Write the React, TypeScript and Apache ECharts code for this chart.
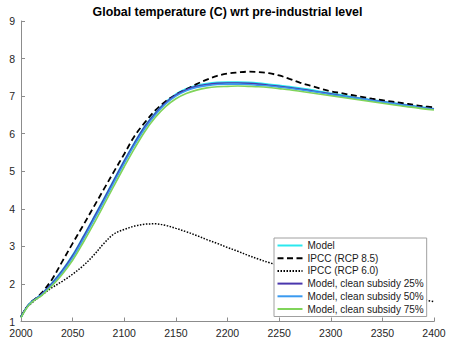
import React, { useEffect, useRef } from "react";
import * as echarts from "echarts";

const titleText = "Global temperature (C) wrt pre-industrial level";

const years = [
  2000, 2005, 2010, 2015, 2020, 2030, 2040, 2050, 2060, 2070, 2080, 2090, 2100,
  2110, 2120, 2130, 2140, 2150, 2160, 2170, 2180, 2190, 2200, 2210, 2220, 2230,
  2240, 2250, 2260, 2270, 2280, 2290, 2300, 2310, 2320, 2330, 2340, 2350, 2360,
  2370, 2380, 2390, 2400,
];

const model = [
  1.12, 1.36, 1.52, 1.62, 1.73, 2.02, 2.36, 2.76, 3.24, 3.74, 4.25, 4.77, 5.28,
  5.76, 6.2, 6.55, 6.84, 7.05, 7.19, 7.28, 7.33, 7.36, 7.37, 7.37, 7.36, 7.34,
  7.31, 7.28, 7.25, 7.21, 7.17, 7.12, 7.07, 7.03, 6.98, 6.94, 6.9, 6.86, 6.82,
  6.78, 6.74, 6.7, 6.66,
];

const rcp85 = [
  1.12, 1.36, 1.52, 1.63, 1.76, 2.12, 2.6, 3.08, 3.55, 4.03, 4.51, 4.99, 5.46,
  5.94, 6.3, 6.62, 6.86, 7.04, 7.18, 7.32, 7.44, 7.54, 7.6, 7.63, 7.65, 7.64,
  7.61, 7.55, 7.46, 7.36, 7.28, 7.2, 7.13, 7.08, 7.03, 6.98, 6.93, 6.89, 6.85,
  6.81, 6.77, 6.73, 6.7,
];

const rcp60 = [
  1.13, 1.36, 1.48, 1.6, 1.7, 1.9, 2.07, 2.26, 2.48, 2.75, 3.07, 3.33, 3.45,
  3.54, 3.59, 3.6, 3.56, 3.48, 3.39, 3.29, 3.18, 3.08, 2.97, 2.87, 2.76, 2.66,
  2.57, 2.49, 2.41, 2.34, 2.27, 2.21, 2.14, 2.08, 2.01, 1.95, 1.88, 1.82, 1.76,
  1.7, 1.64, 1.58, 1.53,
];

const subsidy25 = [
  1.12, 1.36, 1.52, 1.62, 1.73, 2.01, 2.35, 2.75, 3.23, 3.73, 4.24, 4.76, 5.27,
  5.75, 6.19, 6.54, 6.82, 7.03, 7.17, 7.26, 7.31, 7.34, 7.35, 7.35, 7.34, 7.32,
  7.29, 7.26, 7.23, 7.19, 7.15, 7.1, 7.06, 7.01, 6.97, 6.93, 6.89, 6.85, 6.81,
  6.77, 6.73, 6.69, 6.66,
];

const subsidy50 = [
  1.11, 1.35, 1.51, 1.61, 1.71, 1.98, 2.31, 2.7, 3.17, 3.67, 4.18, 4.7, 5.21,
  5.7, 6.14, 6.5, 6.79, 7.0, 7.14, 7.23, 7.28, 7.31, 7.32, 7.32, 7.31, 7.29,
  7.27, 7.24, 7.21, 7.17, 7.13, 7.09, 7.04, 7.0, 6.96, 6.92, 6.88, 6.84, 6.8,
  6.76, 6.72, 6.68, 6.65,
];

const subsidy75 = [
  1.1, 1.34, 1.5, 1.6, 1.69, 1.95, 2.26, 2.63, 3.09, 3.58, 4.09, 4.61, 5.12,
  5.61, 6.06, 6.43, 6.72, 6.93, 7.07, 7.16, 7.22, 7.25, 7.26, 7.27, 7.26, 7.25,
  7.23, 7.2, 7.17, 7.13, 7.09, 7.05, 7.01, 6.97, 6.93, 6.89, 6.85, 6.81, 6.77,
  6.73, 6.7, 6.66, 6.63,
];

const seriesNames = [
  "Model",
  "IPCC (RCP 8.5)",
  "IPCC (RCP 6.0)",
  "Model, clean subsidy 25%",
  "Model, clean subsidy 50%",
  "Model, clean subsidy 75%",
];

const FONT = "Liberation Sans, Arial, Helvetica, sans-serif";

export default function App() {
  const ref = useRef<HTMLDivElement>(null);

  useEffect(() => {
    if (!ref.current) return;
    const chart = echarts.init(ref.current, undefined, { renderer: "svg" });
    const pair = (vals: number[]) => years.map((y, i) => [y, vals[i]]);
    const lineSeries = (
      name: string,
      vals: number[],
      color: string,
      width: number,
      type: any
    ) => ({
      name,
      type: "line",
      data: pair(vals),
      smooth: 0.35,
      symbol: "none",
      showSymbol: false,
      lineStyle: { color, width, type },
      itemStyle: { color },
      emphasis: { disabled: true },
    });

    chart.setOption({
      animation: false,
      grid: { left: 21, right: 15, top: 21, bottom: 17.5, containLabel: false },
      graphic: [
        {
          type: "text",
          x: 227.5,
          y: 6,
          style: {
            text: titleText,
            font: `bold 12.4px ${FONT}`,
            fill: "#000",
            align: "center",
            textAlign: "center",
            verticalAlign: "top",
            textVerticalAlign: "top",
          },
        },
      ],
      legend: {
        orient: "vertical",
        left: 274,
        top: 238,
        padding: [1.5, 3, 1.5, 2.5],
        itemWidth: 25,
        itemHeight: 12,
        itemGap: 0.7,
        borderColor: "#a0a0a0",
        borderWidth: 1,
        borderRadius: 0,
        backgroundColor: "#ffffff",
        itemStyle: { opacity: 0, color: "rgba(0,0,0,0)", borderWidth: 0 },
        textStyle: {
          fontSize: 10,
          fontFamily: FONT,
          color: "#1a1a1a",
          lineHeight: 12,
        },
        data: seriesNames,
      },
      xAxis: {
        type: "value",
        min: 2000,
        max: 2400,
        interval: 50,
        axisLine: { show: true, lineStyle: { color: "#8c8c8c", width: 1 } },
        axisTick: { show: true, inside: true, length: 4, lineStyle: { color: "#8c8c8c" } },
        axisLabel: {
          margin: 6,
          fontSize: 10.5,
          fontFamily: FONT,
          color: "#262626",
          showMinLabel: true,
          showMaxLabel: true,
          formatter: (v: number) => String(v),
        },
        splitLine: { show: false },
      },
      yAxis: {
        type: "value",
        min: 1,
        max: 9,
        interval: 1,
        axisLine: { show: true, lineStyle: { color: "#8c8c8c", width: 1 } },
        axisTick: { show: true, inside: true, length: 4, lineStyle: { color: "#8c8c8c" } },
        axisLabel: {
          margin: 6,
          fontSize: 10.5,
          fontFamily: FONT,
          color: "#262626",
        },
        splitLine: { show: false },
      },
      series: [
        lineSeries(seriesNames[0], model, "#2be8ee", 2, "solid"),
        lineSeries(seriesNames[1], rcp85, "#000000", 1.8, [6, 3.5]),
        lineSeries(seriesNames[2], rcp60, "#000000", 1.5, [1.5, 1.5]),
        lineSeries(seriesNames[3], subsidy25, "#4a36ad", 1.6, "solid"),
        lineSeries(seriesNames[4], subsidy50, "#3a9af0", 1.6, "solid"),
        lineSeries(seriesNames[5], subsidy75, "#80d45a", 1.6, "solid"),
      ],
    });
    return () => chart.dispose();
  }, []);

  return (
    <div
      ref={ref}
      style={{ position: "fixed", left: 0, top: 0, width: 449, height: 339, background: "#fff" }}
    />
  );
}
